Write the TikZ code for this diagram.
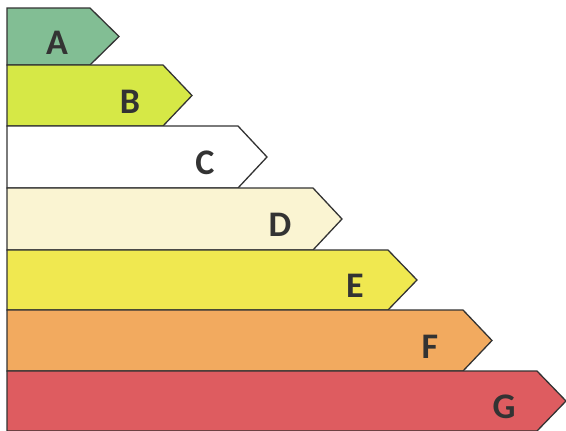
\documentclass[tikz,border=0pt]{standalone}
\usepackage{fontspec}
\setmainfont{Carlito}
\definecolor{ClassA}{RGB}{130,190,148}
\definecolor{ClassB}{RGB}{214,232,70}
\definecolor{ClassC}{RGB}{255,255,255}
\definecolor{ClassD}{RGB}{250,244,210}
\definecolor{ClassE}{RGB}{240,232,80}
\definecolor{ClassF}{RGB}{242,170,95}
\definecolor{ClassG}{RGB}{222,92,96}

\begin{document}
\begin{tikzpicture}[
        x=1pt, y=-1pt,
        bar/.style={
            draw=black!80,
            line width=1.3pt,
            line join=miter
        },
        grade/.style={
            font=\fontsize{36}{36}\selectfont\bfseries,
            text=black!80
        }
    ]
    \useasboundingbox (0,0) rectangle (566,431);

    % Barras A--G (letra/color/arriba/abajo/borde derecho)
    \foreach \lbl/\col/\top/\bot/\xr in {
            A/ClassA/8/65/90,
            B/ClassB/65/126/163,
            C/ClassC/126/188/238,
            D/ClassD/188/250/313,
            E/ClassE/250/310/388,
            F/ClassF/310/371/463,
            G/ClassG/371/431/537} {
        \filldraw[bar, fill=\col] (7,\top) -- (\xr,\top)
            -- (\xr+29,{(\top+\bot)/2}) -- (\xr,\bot) -- (7,\bot) -- cycle;
        \node[grade] (grade\lbl) at (\xr-33,{(\top+\bot)/2+6}) {\lbl};
    }

\end{tikzpicture}
\end{document}
